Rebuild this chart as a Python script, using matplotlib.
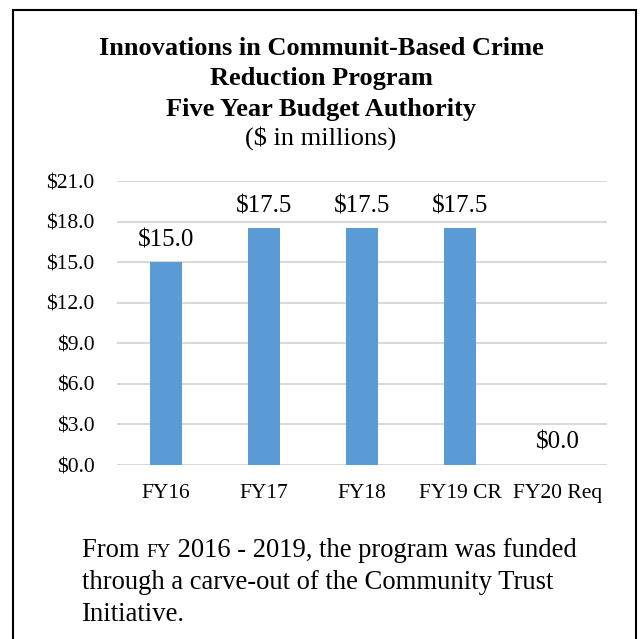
import matplotlib
matplotlib.use('Agg')
import matplotlib.pyplot as plt
from matplotlib.patches import Rectangle

plt.rcParams['font.family'] = 'Liberation Serif'

categories = ['FY16', 'FY17', 'FY18', 'FY19 CR', 'FY20 Req']
budget = [15.0, 17.5, 17.5, 17.5, 0.0]
yticks = [0, 3, 6, 9, 12, 15, 18, 21]

title_lines = ['Innovations in Communit-Based Crime', 'Reduction Program',
               'Five Year Budget Authority']
subtitle = '($ in millions)'
note_lines = ['through a carve-out of the Community Trust', 'Initiative.']

W, H = 642, 639
fig = plt.figure(figsize=(W/100, H/100), dpi=100)
ax = fig.add_axes([117/W, 1 - 465/H, 490/W, 284/H])

x = range(len(categories))
ax.bar(x, budget, width=0.32, color='#5B9BD5', zorder=3)
ax.set_xlim(-0.5, len(categories) - 0.5)
ax.set_ylim(0, 21)
ax.set_yticks(yticks)
ax.set_yticklabels(['${:.1f}'.format(v) for v in yticks])
ax.set_xticks(list(x))
ax.set_xticklabels(categories)
ax.tick_params(axis='y', length=0, pad=16, labelsize=15.5)
ax.tick_params(axis='x', length=0, pad=13.5, labelsize=15.5)
ax.grid(axis='y', color='#D9D9D9', linewidth=1.5, zorder=0)
for s in ax.spines.values():
    s.set_visible(False)

for i, v in enumerate(budget):
    ax.annotate('${:.1f}'.format(v), (i, v), xytext=(0, 16), textcoords='offset pixels',
                ha='center', va='baseline', fontsize=18)

# title, one line at a time
for k, line in enumerate(title_lines):
    fig.text(0.5, 1 - (55 + 30.5*k)/H, line, ha='center', va='baseline',
             fontsize=19, fontweight='bold')
fig.text(0.5, 1 - 145/H, subtitle, ha='center', va='baseline', fontsize=19)

# footnote, with "FY" in small caps
fs = 19.2
y1 = 1 - 557/H
t1 = fig.text(82/W, y1, 'From ', fontsize=fs, va='baseline')
fig.canvas.draw()
r = fig.canvas.get_renderer()
xx = t1.get_window_extent(r).x1 / fig.bbox.width
t2 = fig.text(xx, y1, 'FY', fontsize=fs*0.72, va='baseline')
fig.canvas.draw()
xx = t2.get_window_extent(r).x1 / fig.bbox.width
fig.text(xx, y1, ' 2016 - 2019, the program was funded', fontsize=fs, va='baseline')
for k, line in enumerate(note_lines):
    fig.text(82/W, 1 - (589 + 32*k)/H, line, fontsize=fs, va='baseline')

# frame around the whole thing
fig.patches.append(Rectangle((13/W, -0.05), 623/W, 1.05 - 10/H, transform=fig.transFigure,
                             fill=False, edgecolor='black', linewidth=1.5))

fig.savefig('out.png', dpi=100)
